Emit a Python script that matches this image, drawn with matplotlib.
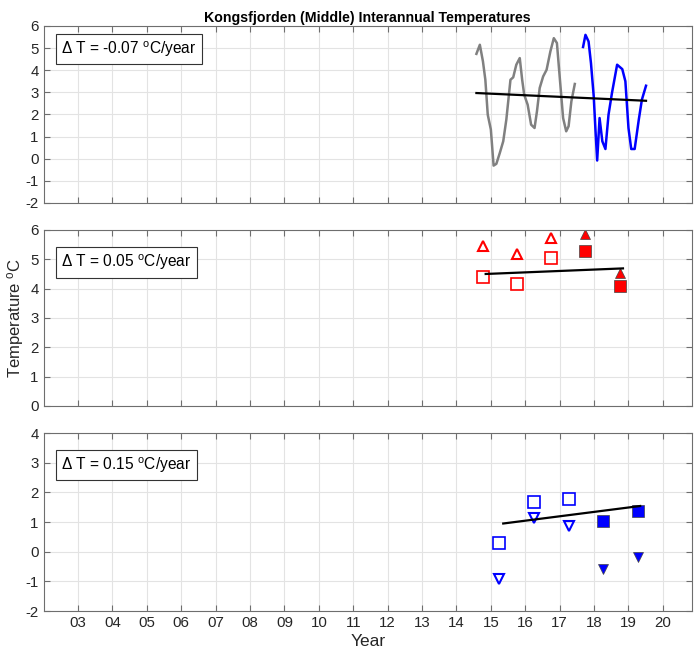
import matplotlib
matplotlib.use("Agg")
import matplotlib.pyplot as plt
import numpy as np

plt.rcParams['font.family'] = ['Liberation Sans', 'DejaVu Sans']
plt.rcParams['mathtext.default'] = 'regular'
plt.rcParams['axes.unicode_minus'] = False

# ---------------- data ----------------
title = "Kongsfjorden (Middle) Interannual Temperatures"
xtick_years = list(range(3, 21))
xtick_labels = ["%02d" % y for y in xtick_years]

# top panel: monthly-ish temperature series
gray_x = [14.58, 14.68, 14.77, 14.84, 14.91, 15.00, 15.08, 15.16, 15.26, 15.36, 15.45,
          15.57, 15.65, 15.74, 15.84, 15.91, 15.97, 16.07, 16.17, 16.27, 16.34, 16.42,
          16.52, 16.62, 16.73, 16.83, 16.92, 17.00, 17.10, 17.19, 17.26, 17.34, 17.44]
gray_y = [4.74, 5.15, 4.40, 3.57, 1.99, 1.32, -0.31, -0.23, 0.26, 0.79, 1.77,
          3.57, 3.68, 4.25, 4.55, 3.57, 2.89, 2.44, 1.54, 1.39, 2.14, 3.20,
          3.72, 4.02, 4.85, 5.45, 5.23, 3.72, 1.84, 1.24, 1.47, 2.59, 3.38]
blue_x = [17.68, 17.75, 17.84, 17.91, 17.99, 18.04, 18.09, 18.16, 18.24, 18.33, 18.42,
          18.52, 18.67, 18.82, 18.91, 19.00, 19.08, 19.18, 19.30, 19.39, 19.51]
blue_y = [5.05, 5.60, 5.30, 4.32, 2.82, 1.32, -0.08, 1.84, 0.79, 0.44, 1.99,
          2.97, 4.25, 4.05, 3.50, 1.39, 0.44, 0.44, 1.77, 2.67, 3.30]
trend1_x = [14.58, 19.51]
trend1_y = [2.97, 2.62]
label1 = "$\\Delta$ T = -0.07 $^{o}$C/year"

# middle panel
mid_open_x = [14.76, 15.76, 16.76]
mid_open_tri = [5.45, 5.18, 5.74]
mid_open_sq = [4.41, 4.16, 5.03]
mid_fill_x = [17.75, 18.76]
mid_fill_tri = [5.86, 4.55]
mid_fill_sq = [5.30, 4.10]
trend2_x = [14.85, 18.84]
trend2_y = [4.50, 4.69]
label2 = "$\\Delta$ T = 0.05 $^{o}$C/year"

# bottom panel
bot_open_x = [15.25, 16.26, 17.26]
bot_open_sq = [0.29, 1.69, 1.77]
bot_open_tri = [-0.91, 1.12, 0.85]
bot_fill_x = [18.26, 19.27]
bot_fill_sq = [1.03, 1.38]
bot_fill_tri = [-0.60, -0.18]
trend3_x = [15.36, 19.34]
trend3_y = [0.95, 1.54]
label3 = "$\\Delta$ T = 0.15 $^{o}$C/year"

ylims = [(-2, 6), (0, 6), (-2, 4)]
xlim = (2.0, 20.84)

# ---------------- figure ----------------
fig = plt.figure(figsize=(6.94, 6.58), dpi=100)
left, width = 0.0628, 0.934
positions = [(left, 0.6915, width, 0.269),
             (left, 0.3830, width, 0.2675),
             (left, 0.0714, width, 0.2705)]
axes = [fig.add_axes(p) for p in positions]

spine_col = '#6e6e6e'
for ax, yl in zip(axes, ylims):
    ax.set_xlim(*xlim)
    ax.set_ylim(*yl)
    ax.set_xticks(xtick_years)
    ax.set_yticks(np.arange(yl[0], yl[1] + 1, 1))
    ax.grid(True, color='#e3e3e3', linewidth=0.8)
    ax.set_axisbelow(True)
    ax.tick_params(direction='in', top=True, right=True, length=4,
                   color=spine_col, labelsize=10.8, labelcolor='#262626', width=0.8)
    for s in ax.spines.values():
        s.set_color(spine_col)
        s.set_linewidth(0.8)
    ax.set_xticklabels([])

axes[2].set_xticklabels(xtick_labels)
axes[2].set_xlabel("Year", fontsize=12.5, color='#262626', labelpad=3)
axes[1].set_ylabel("Temperature $^{o}$C", fontsize=12, color='#262626', labelpad=3)
axes[0].set_title(title, fontsize=10.2, fontweight='bold', pad=3)

bbox = dict(boxstyle='square,pad=0.35', facecolor='white', edgecolor='#333333', linewidth=0.8)

# top
ax = axes[0]
ax.plot(gray_x, gray_y, color='#808080', linewidth=1.8)
ax.plot(blue_x, blue_y, color='#0000ff', linewidth=1.8)
ax.plot(trend1_x, trend1_y, color='black', linewidth=1.6)
ax.text(0.027, 0.87, label1, transform=ax.transAxes, fontsize=11.2, va='center', ha='left', bbox=bbox)

# middle
ax = axes[1]
ax.plot(mid_open_x, mid_open_tri, linestyle='none', marker='^', markersize=7,
        markerfacecolor='none', markeredgecolor='red', markeredgewidth=1.5)
ax.plot(mid_open_x, mid_open_sq, linestyle='none', marker='s', markersize=9,
        markerfacecolor='none', markeredgecolor='red', markeredgewidth=1.2)
ax.plot(mid_fill_x, mid_fill_tri, linestyle='none', marker='^', markersize=7,
        markerfacecolor='red', markeredgecolor='#444444', markeredgewidth=0.5)
ax.plot(mid_fill_x, mid_fill_sq, linestyle='none', marker='s', markersize=9,
        markerfacecolor='red', markeredgecolor='#444444', markeredgewidth=0.5)
ax.plot(trend2_x, trend2_y, color='black', linewidth=1.6)
ax.text(0.027, 0.815, label2, transform=ax.transAxes, fontsize=11.2, va='center', ha='left', bbox=bbox)

# bottom
ax = axes[2]
ax.plot(bot_open_x, bot_open_sq, linestyle='none', marker='s', markersize=9,
        markerfacecolor='none', markeredgecolor='#0000ff', markeredgewidth=1.2)
ax.plot(bot_open_x, bot_open_tri, linestyle='none', marker='v', markersize=7,
        markerfacecolor='none', markeredgecolor='#0000ff', markeredgewidth=1.5)
ax.plot(bot_fill_x, bot_fill_sq, linestyle='none', marker='s', markersize=9,
        markerfacecolor='#0000ff', markeredgecolor='#444444', markeredgewidth=0.5)
ax.plot(bot_fill_x, bot_fill_tri, linestyle='none', marker='v', markersize=7,
        markerfacecolor='#0000ff', markeredgecolor='#444444', markeredgewidth=0.5)
ax.plot(trend3_x, trend3_y, color='black', linewidth=1.6)
ax.text(0.027, 0.82, label3, transform=ax.transAxes, fontsize=11.2, va='center', ha='left', bbox=bbox)

fig.savefig("out.png", dpi=100)
